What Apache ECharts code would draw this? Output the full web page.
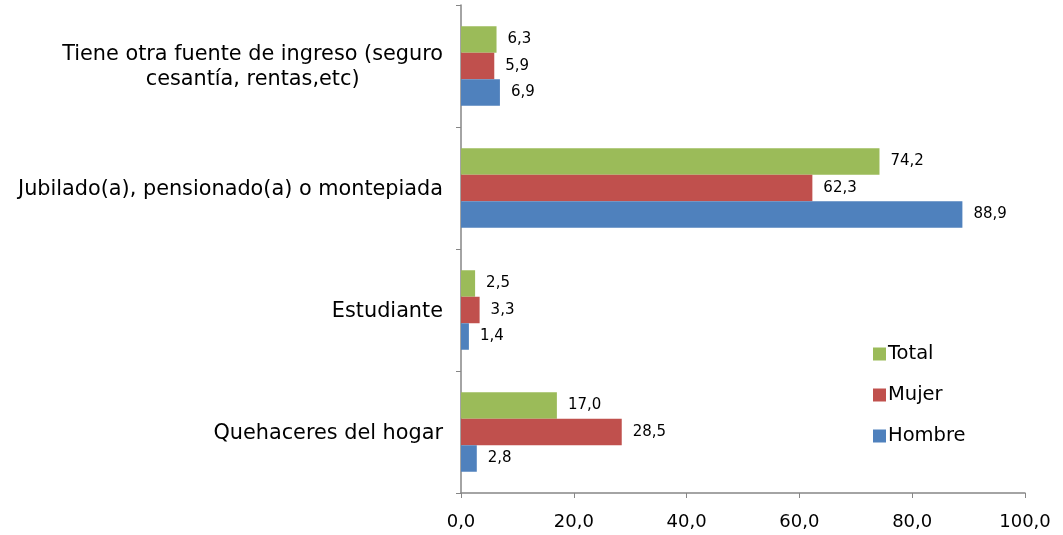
<!DOCTYPE html>
<html><head><meta charset="utf-8">
<script src="https://cdn.jsdelivr.net/npm/echarts@6/dist/echarts.min.js"></script>
<style>html,body{margin:0;padding:0;background:#fff}#c{width:1063px;height:535px}</style>
</head><body><div id="c"></div>
<script>
const categories = ['Quehaceres del hogar', 'Estudiante', 'Jubilado(a), pensionado(a) o montepiada', 'Tiene otra fuente de ingreso (seguro\ncesantía, rentas,etc)'];
const hombre = [2.8, 1.4, 88.9, 6.9];
const mujer = [28.5, 3.3, 62.3, 5.9];
const total = [17.0, 2.5, 74.2, 6.3];
const xTicks = [0, 20, 40, 60, 80, 100];

const font = '"DejaVu Sans", sans-serif';
const fmt = v => v.toFixed(1).replace('.', ',');
function mk(name, data, color) {
  return {
    name, type: 'bar', data, barWidth: 26.5, barGap: '0%',
    itemStyle: { color },
    label: { show: true, position: 'right', distance: 11, color: '#000', fontFamily: font, fontSize: 15,
      formatter: p => fmt(p.value) },
    animation: false
  };
}
const chart = echarts.init(document.getElementById('c'));
chart.setOption({
  animation: false,
  grid: { left: 461, right: 38, top: 5, bottom: 42, containLabel: false },
  legend: {
    orient: 'vertical', left: 868, top: 339, itemWidth: 13, itemHeight: 13, itemGap: 21,
    icon: 'rect', data: ['Total', 'Mujer', 'Hombre'],
    textStyle: { fontFamily: font, fontSize: 19.5, color: '#000', padding: [0, 0, 0, -3] }
  },
  xAxis: {
    type: 'value', min: 0, max: 100, interval: 20,
    axisLine: { show: true, lineStyle: { color: '#868686', width: 1.5 } },
    axisTick: { show: true, length: 5, lineStyle: { color: '#868686' } },
    splitLine: { show: false },
    axisLabel: { fontFamily: font, fontSize: 18, color: '#000', margin: 20, formatter: v => fmt(v) }
  },
  yAxis: {
    type: 'category', data: categories,
    axisLine: { show: true, lineStyle: { color: '#868686', width: 1.5 } },
    axisTick: { show: true, length: 5, lineStyle: { color: '#868686' } },
    axisLabel: {
      fontFamily: font, fontSize: 20.8, color: '#000', margin: 18, align: 'right', lineHeight: 25,
      formatter: v => v.split('\n').map(s => '{c|' + s + '}').join('\n'),
      rich: { c: { fontFamily: font, fontSize: 20.8, color: '#000', align: 'center', lineHeight: 25, padding: [3, 0, 0, 0] } }
    }
  },
  series: [mk('Total', total, '#9BBB59'), mk('Mujer', mujer, '#C0504D'), mk('Hombre', hombre, '#4F81BD')]
});
</script></body></html>
